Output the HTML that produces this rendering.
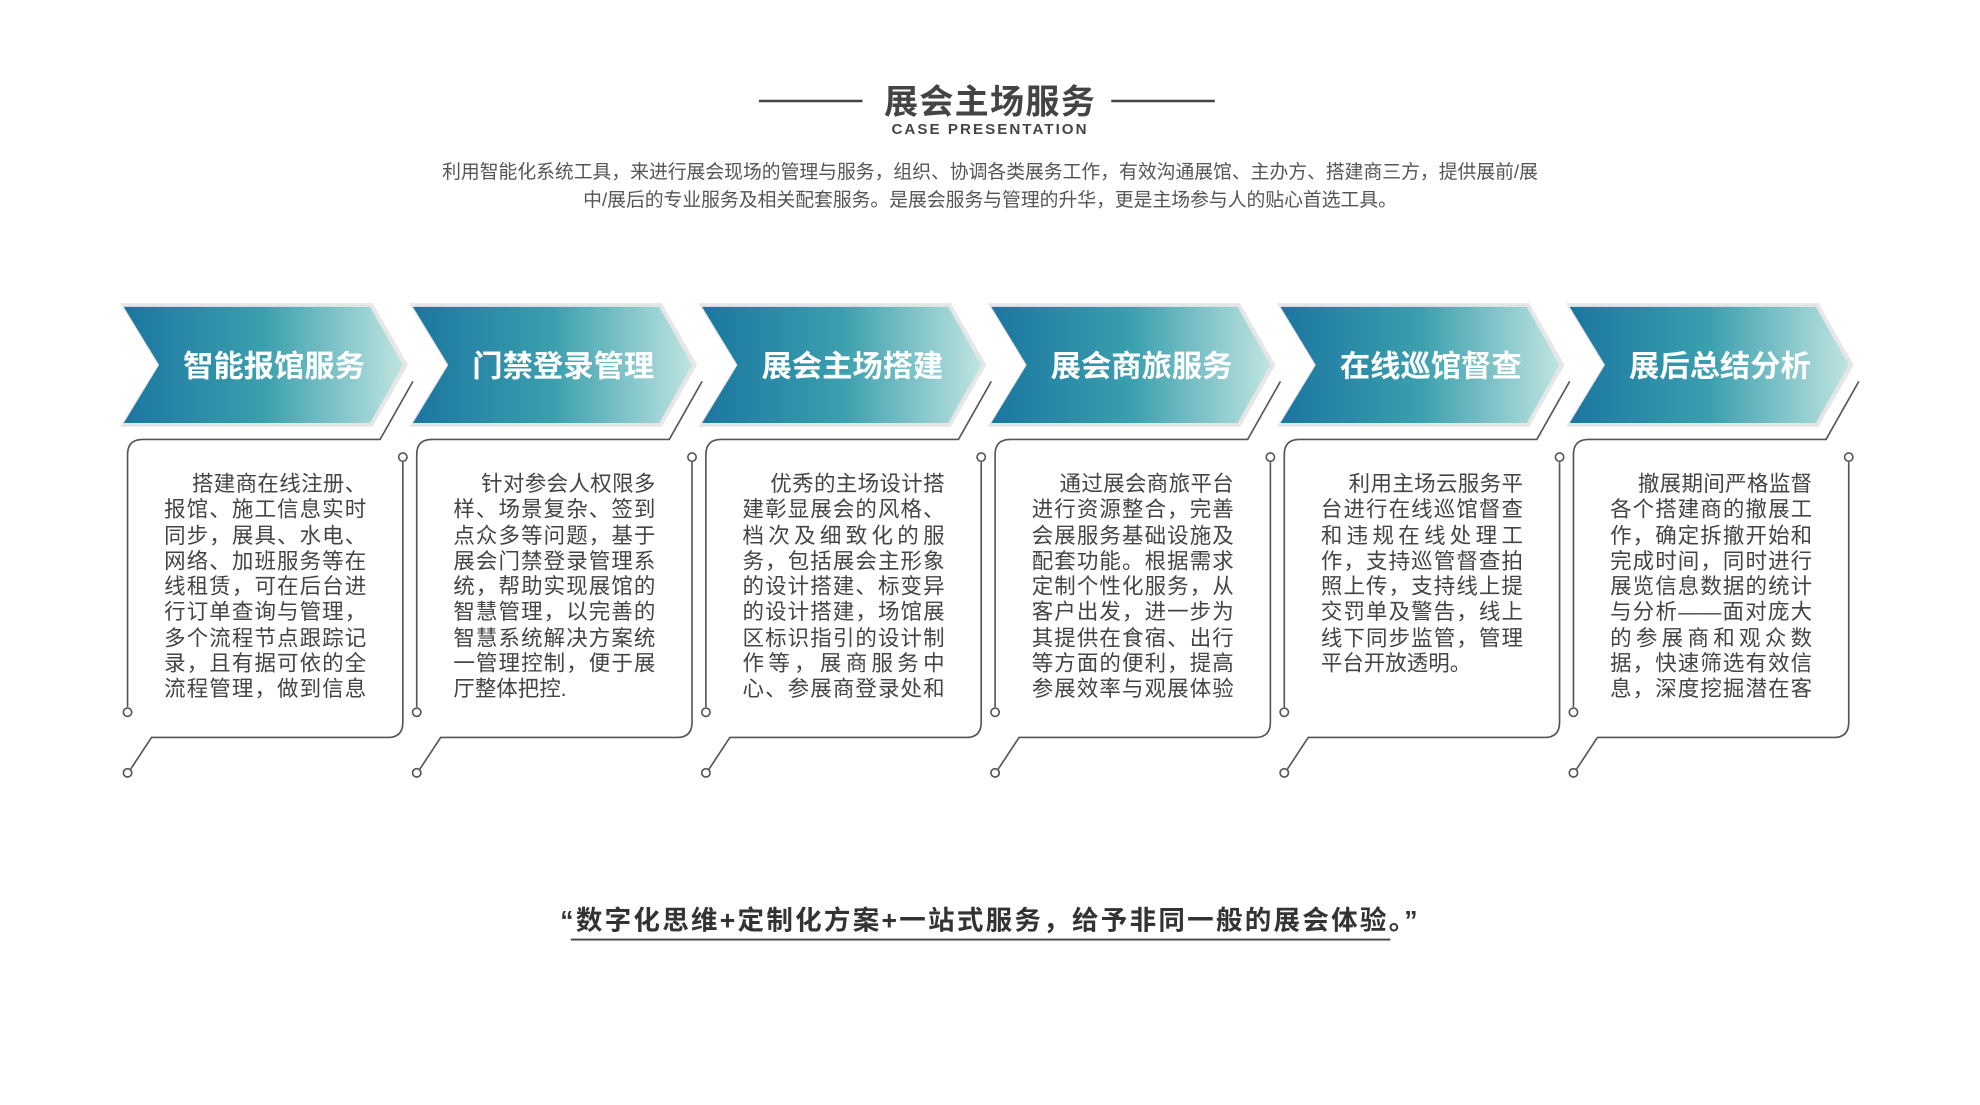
<!DOCTYPE html>
<html><head><meta charset="utf-8"><style>
html,body{margin:0;padding:0;background:#fff;width:1980px;height:1105px;overflow:hidden}
#w{position:absolute;left:0;top:0;width:1568px;height:875px;transform:scale(1.2628);transform-origin:0 0;font-family:"Liberation Sans","Noto Sans CJK SC",sans-serif}
.t{position:absolute;left:0;width:1568px;text-align:center;white-space:nowrap}
.bx{position:absolute;top:374px;width:160px;font-size:17px;line-height:20.3px;color:#444;white-space:nowrap}
.bx div{text-align:justify;text-align-last:justify;height:20.3px}
.bx div.f{padding-left:22px}
.bx div.l{text-align-last:left}
.ch{position:absolute;top:270px;width:200px;text-align:center;color:#fff;font-weight:bold;font-size:24px}
</style></head><body><div id="w">
<svg width="1568" height="875" style="position:absolute;left:0;top:0">
<defs><linearGradient id="g" x1="0" x2="1" y1="0" y2="0">
<stop offset="0" stop-color="#1b76a0"/><stop offset="0.5" stop-color="#3a9fae"/><stop offset="1" stop-color="#bfe4e0"/></linearGradient></defs>
<line x1="601" y1="80" x2="683" y2="80" stroke="#444" stroke-width="2"/>
<line x1="880" y1="80" x2="962" y2="80" stroke="#444" stroke-width="2"/>
<line x1="452" y1="744" x2="1101" y2="744" stroke="#444" stroke-width="1.5"/>
<g id="u">
<polygon points="95,240 295,240 323,289 295,338 95,338 125,289" fill="#e6e6e6"/>
<polygon points="98,243 293,243 319,289 293,335 98,335 126,289" fill="url(#g)"/>
<g fill="none" stroke="#555" stroke-width="1.3">
<path d="M327 302 L301 348 L113 348 Q101 348 101 360 L101 560"/>
<circle cx="101" cy="564" r="3.3" fill="#fff"/>
<circle cx="319" cy="362" r="3.3" fill="#fff"/>
<path d="M319 366 L319 572 Q319 584 307 584 L120 584 L103.5 609"/>
<circle cx="101" cy="612" r="3.3" fill="#fff"/>
</g></g>
<use href="#u" x="229"/><use href="#u" x="458"/><use href="#u" x="687"/><use href="#u" x="916"/><use href="#u" x="1145"/>
</svg>
<div class="t" style="top:59px;font-size:27px;font-weight:bold;color:#444;letter-spacing:1px">展会主场服务</div>
<div class="t" style="top:95px;font-size:12px;font-weight:bold;color:#444;letter-spacing:1.6px">CASE PRESENTATION</div>
<div class="t" style="top:126px;font-size:14.9px;line-height:22px;color:#555">利用智能化系统工具，来进行展会现场的管理与服务，组织、协调各类展务工作，有效沟通展馆、主办方、搭建商三方，提供展前/展<br>中/展后的专业服务及相关配套服务。是展会服务与管理的升华，更是主场参与人的贴心首选工具。</div>
<div class="ch" style="left:117px">智能报馆服务</div>
<div class="ch" style="left:346px">门禁登录管理</div>
<div class="ch" style="left:575px">展会主场搭建</div>
<div class="ch" style="left:804px">展会商旅服务</div>
<div class="ch" style="left:1033px">在线巡馆督查</div>
<div class="ch" style="left:1262px">展后总结分析</div>
<div class="bx" style="left:130px"><div class="f">搭建商在线注册、</div><div>报馆、施工信息实时</div><div>同步，展具、水电、</div><div>网络、加班服务等在</div><div>线租赁，可在后台进</div><div>行订单查询与管理，</div><div>多个流程节点跟踪记</div><div>录，且有据可依的全</div><div>流程管理，做到信息</div></div>
<div class="bx" style="left:359px"><div class="f">针对参会人权限多</div><div>样、场景复杂、签到</div><div>点众多等问题，基于</div><div>展会门禁登录管理系</div><div>统，帮助实现展馆的</div><div>智慧管理，以完善的</div><div>智慧系统解决方案统</div><div>一管理控制，便于展</div><div class="l">厅整体把控.</div></div>
<div class="bx" style="left:588px"><div class="f">优秀的主场设计搭</div><div>建彰显展会的风格、</div><div>档次及细致化的服</div><div>务，包括展会主形象</div><div>的设计搭建、标变异</div><div>的设计搭建，场馆展</div><div>区标识指引的设计制</div><div>作等，展商服务中</div><div>心、参展商登录处和</div></div>
<div class="bx" style="left:817px"><div class="f">通过展会商旅平台</div><div>进行资源整合，完善</div><div>会展服务基础设施及</div><div>配套功能。根据需求</div><div>定制个性化服务，从</div><div>客户出发，进一步为</div><div>其提供在食宿、出行</div><div>等方面的便利，提高</div><div>参展效率与观展体验</div></div>
<div class="bx" style="left:1046px"><div class="f">利用主场云服务平</div><div>台进行在线巡馆督查</div><div>和违规在线处理工</div><div>作，支持巡管督查拍</div><div>照上传，支持线上提</div><div>交罚单及警告，线上</div><div>线下同步监管，管理</div><div class="l">平台开放透明。</div></div>
<div class="bx" style="left:1275px"><div class="f">撤展期间严格监督</div><div>各个搭建商的撤展工</div><div>作，确定拆撤开始和</div><div>完成时间，同时进行</div><div>展览信息数据的统计</div><div>与分析——面对庞大</div><div>的参展商和观众数</div><div>据，快速筛选有效信</div><div>息，深度挖掘潜在客</div></div>
<div class="t" style="top:713px;font-size:21px;font-weight:bold;color:#333;letter-spacing:1.8px">“数字化思维+定制化方案+一站式服务，给予非同一般的展会体验。”</div>
</div></body></html>
